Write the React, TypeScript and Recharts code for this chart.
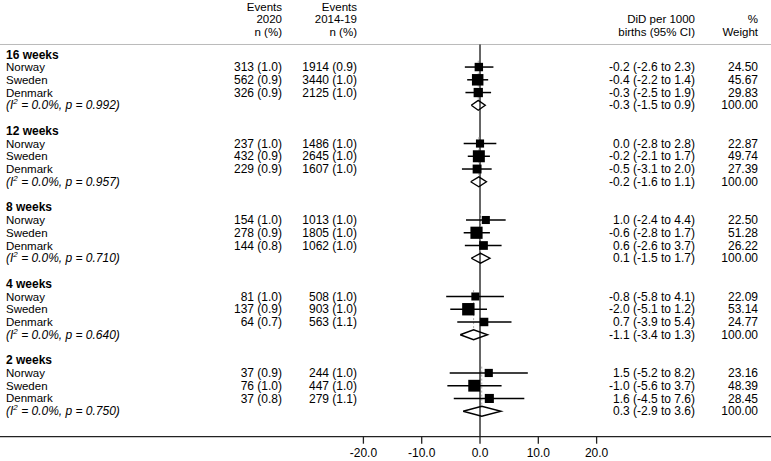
import { ScatterChart, Scatter, XAxis, YAxis, ErrorBar, ReferenceLine } from "recharts";

const groupNames = ["16 weeks", "12 weeks", "8 weeks", "4 weeks", "2 weeks"];
const countries = ["Norway", "Sweden", "Denmark"];
const n2020 = [[313, 562, 326], [237, 432, 229], [154, 278, 144], [81, 137, 64], [37, 76, 37]];
const pct2020 = [[1.0, 0.9, 0.9], [1.0, 0.9, 0.9], [1.0, 0.9, 0.8], [1.0, 0.9, 0.7], [0.9, 1.0, 0.8]];
const nBase = [[1914, 3440, 2125], [1486, 2645, 1607], [1013, 1805, 1062], [508, 903, 563], [244, 447, 279]];
const pctBase = [[0.9, 1.0, 1.0], [1.0, 1.0, 1.0], [1.0, 1.0, 1.0], [1.0, 1.0, 1.1], [1.0, 1.0, 1.1]];
const did = [[-0.2, -0.4, -0.3], [0.0, -0.2, -0.5], [1.0, -0.6, 0.6], [-0.8, -2.0, 0.7], [1.5, -1.0, 1.6]];
const ciLow = [[-2.6, -2.2, -2.5], [-2.8, -2.1, -3.1], [-2.4, -2.8, -2.6], [-5.8, -5.1, -3.9], [-5.2, -5.6, -4.5]];
const ciHigh = [[2.3, 1.4, 1.9], [2.8, 1.7, 2.0], [4.4, 1.7, 3.7], [4.1, 1.2, 5.4], [8.2, 3.7, 7.6]];
const weights = [[24.5, 45.67, 29.83], [22.87, 49.74, 27.39], [22.5, 51.28, 26.22], [22.09, 53.14, 24.77], [23.16, 48.39, 28.45]];
const pooled = [-0.3, -0.2, 0.1, -1.1, 0.3];
const pooledLow = [-1.5, -1.6, -1.5, -3.4, -2.9];
const pooledHigh = [0.9, 1.1, 1.7, 1.3, 3.6];
const i2 = [0.0, 0.0, 0.0, 0.0, 0.0];
const pHet = [0.992, 0.957, 0.71, 0.64, 0.75];
const xTicks = [-20, -10, 0, 10, 20];
const headers = [
  ["Events", "Events", "", ""],
  ["2020", "2014-19", "DiD per 1000", "%"],
  ["n (%)", "n (%)", "births (95% CI)", "Weight"],
];
const headerRows = [-3.72, -2.75, -1.78];

const FONT = "'Liberation Sans', Arial, sans-serif";
const COL_2020 = 282;
const COL_BASE = 357;
const COL_DID = 695;
const COL_W = 758;
const HEAD_LINE = -0.77;

const fmtCi = (e: number, l: number, h: number) =>
  `${e.toFixed(1)} (${l.toFixed(1)} to ${h.toFixed(1)})`;

// one row of text per table line, y comes from the chart's scale
const textRows: any[] = [];
headers.forEach((h, i) => textRows.push({ x: 0, y: headerRows[i], kind: "head", cols: h }));
groupNames.forEach((g, gi) => {
  const base = gi * 6;
  textRows.push({ x: 0, y: base, kind: "group", label: g });
  countries.forEach((c, ci) => {
    textRows.push({
      x: 0,
      y: base + 1 + ci,
      kind: "study",
      label: c,
      cols: [
        `${n2020[gi][ci]} (${pct2020[gi][ci].toFixed(1)})`,
        `${nBase[gi][ci]} (${pctBase[gi][ci].toFixed(1)})`,
        fmtCi(did[gi][ci], ciLow[gi][ci], ciHigh[gi][ci]),
        weights[gi][ci].toFixed(2),
      ],
    });
  });
  textRows.push({
    x: 0,
    y: base + 4,
    kind: "summary",
    i2: i2[gi].toFixed(1),
    p: pHet[gi].toFixed(3),
    cols: ["", "", fmtCi(pooled[gi], pooledLow[gi], pooledHigh[gi]), "100.00"],
  });
});

const studyPoints = groupNames.flatMap((_, gi) =>
  countries.map((_c, ci) => ({
    x: did[gi][ci],
    y: gi * 6 + 1 + ci,
    w: weights[gi][ci],
    err: [did[gi][ci] - ciLow[gi][ci], ciHigh[gi][ci] - did[gi][ci]],
  }))
);

const DH = 0.39;
const diamonds = groupNames.map((_, gi) => {
  const r = gi * 6 + 4;
  return [
    { x: pooledLow[gi], y: r },
    { x: pooled[gi], y: r - DH },
    { x: pooledHigh[gi], y: r },
    { x: pooled[gi], y: r + DH },
    { x: pooledLow[gi], y: r },
  ];
});

const SquareShape = (props: any) => {
  const { cx, cy, payload } = props;
  const s = 1.7 * Math.sqrt(payload.w);
  return <rect x={cx - s / 2} y={cy - s / 2} width={s} height={s} fill="#000" />;
};

const TextShape = (props: any) => {
  const { cy, payload } = props;
  const size = payload.kind === "head" ? 11.5 : 12;
  const common = { fontFamily: FONT, fontSize: size, fill: "#000", dy: "0.35em" };
  const cols = payload.cols || [];
  const right = (
    <>
      {cols[0] ? <text {...common} x={COL_2020} y={cy} textAnchor="end">{cols[0]}</text> : null}
      {cols[1] ? <text {...common} x={COL_BASE} y={cy} textAnchor="end">{cols[1]}</text> : null}
      {cols[2] ? <text {...common} x={COL_DID} y={cy} textAnchor="end">{cols[2]}</text> : null}
      {cols[3] ? <text {...common} x={COL_W} y={cy} textAnchor="end">{cols[3]}</text> : null}
    </>
  );
  if (payload.kind === "group") {
    return (
      <text {...common} x={6} y={cy} fontWeight="bold">
        {payload.label}
      </text>
    );
  }
  if (payload.kind === "study") {
    return (
      <g>
        <text {...common} x={6} y={cy} fontSize={11.5}>{payload.label}</text>
        {right}
      </g>
    );
  }
  if (payload.kind === "summary") {
    return (
      <g>
        <text {...common} x={6} y={cy} fontStyle="italic">
          (I
          <tspan fontSize={8} dy={-5}>2</tspan>
          <tspan dy={5}>{` = ${payload.i2}%, p = ${payload.p})`}</tspan>
        </text>
        {right}
      </g>
    );
  }
  return <g>{right}</g>;
};

export default function App() {
  return (
    <div style={{ width: 771, height: 461 }}>
      <style>{`body{margin:0}`}</style>
      <ScatterChart width={771} height={461} margin={{ top: 0, right: 0, bottom: 0, left: 0 }}>
        <XAxis
          type="number"
          dataKey="x"
          domain={[-82.33, 49.91]}
          ticks={xTicks}
          allowDataOverflow
          height={24.3}
          tickSize={7}
          tickMargin={5}
          tickFormatter={(v: number) => v.toFixed(1)}
          axisLine={{ stroke: "#222", strokeWidth: 1.3 }}
          tickLine={{ stroke: "#222", strokeWidth: 1.3 }}
          tick={{ fontSize: 12, fill: "#000", fontFamily: FONT }}
        />
        <YAxis type="number" dataKey="y" domain={[-4.26, 30]} reversed hide allowDataOverflow />

        <ReferenceLine y={HEAD_LINE} stroke="#bbb" strokeWidth={1} />
        <ReferenceLine
          segment={[{ x: 0, y: HEAD_LINE }, { x: 0, y: 30 }]}
          stroke="#000"
          strokeWidth={1.2}
        />
        {pooled.map((p, gi) => (
          <ReferenceLine
            key={`dash-${gi}`}
            segment={[{ x: p, y: gi * 6 + 0.5 }, { x: p, y: gi * 6 + 3.5 }]}
            stroke="#aaa"
            strokeWidth={1}
            strokeDasharray="2 2"
          />
        ))}

        <Scatter data={studyPoints} shape={SquareShape} isAnimationActive={false}>
          <ErrorBar dataKey="err" direction="x" width={0} stroke="#000" strokeWidth={1.5} />
        </Scatter>

        {diamonds.map((d, gi) => (
          <Scatter
            key={`dia-${gi}`}
            data={d}
            line={{ stroke: "#000", strokeWidth: 1.4 }}
            lineType="joint"
            shape={() => <g />}
            isAnimationActive={false}
          />
        ))}

        <Scatter data={textRows} shape={TextShape} isAnimationActive={false} />
      </ScatterChart>
    </div>
  );
}
